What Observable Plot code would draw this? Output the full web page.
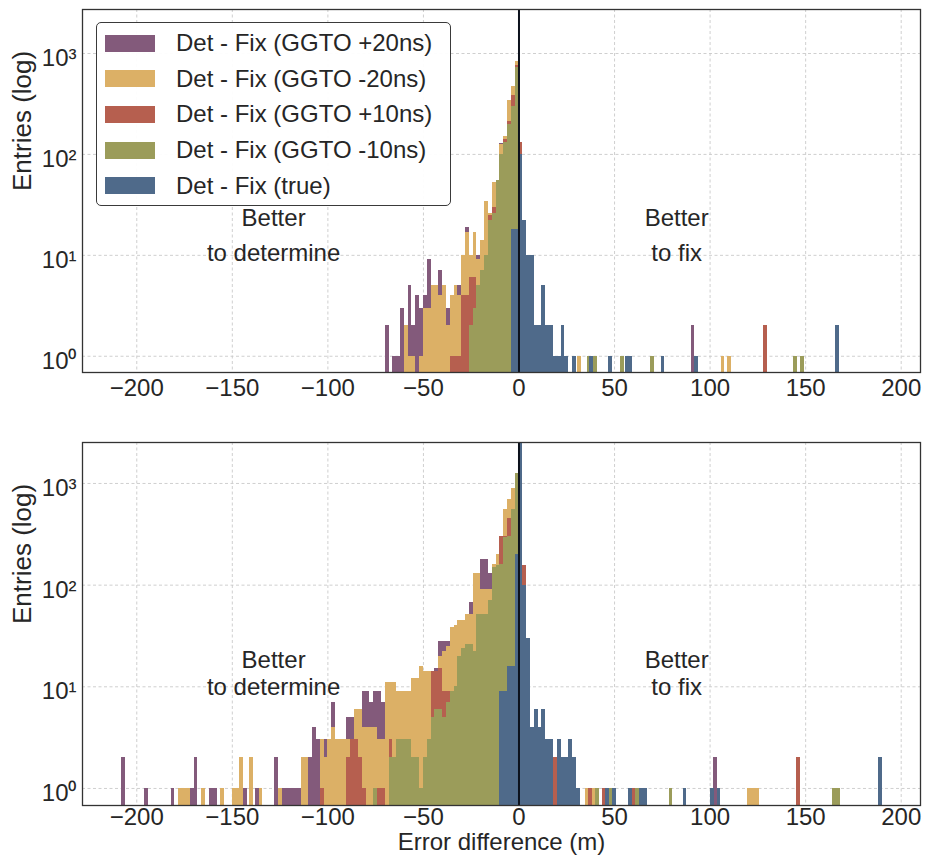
<!DOCTYPE html>
<html>
<head>
<meta charset="utf-8">
<script src="https://cdn.jsdelivr.net/npm/d3@7"></script>
<script src="https://cdn.jsdelivr.net/npm/@observablehq/plot@0.6"></script>
<style>
  body { margin: 0; background: #fff; }
  #wrap { position: relative; width: 933px; height: 856px; font-family: "Liberation Sans", Arial, sans-serif; color: #262626; }
  #wrap svg { display: block; }
  .legend { position: absolute; left: 96px; top: 22px; width: 355px; height: 184px; box-sizing: border-box;
            border: 1.3px solid #3a3a3a; border-radius: 5px; background: rgba(255,255,255,0.95); }
  .item { position: absolute; left: 0; height: 24px; display: flex; align-items: center; font-size: 24px; white-space: nowrap; }
  .sw { width: 50px; height: 17px; margin-left: 8px; margin-right: 21px; }
</style>
</head>
<body>
<div id="wrap"></div>
<script>
// ---------------- data ----------------
const seriesNames = ["Det - Fix (GGTO +20ns)", "Det - Fix (GGTO -20ns)", "Det - Fix (GGTO +10ns)", "Det - Fix (GGTO -10ns)", "Det - Fix (true)"];
const xTicks = [-200, -150, -100, -50, 0, 50, 100, 150, 200];
const yTicks = [1, 10, 100, 1000];
const BIN = 2; // histogram bin width (m)

// top panel: [bin left edge, entries]
const topP20 = [[-70,2],[-66,1],[-64,1],[-62,3],[-60,1],[-58,5],[-56,2],[-54,4],[-52,3],[-50,4],[-48,9],[-46,3],[-44,4],[-42,7],[-40,3],[-38,3],[-36,3],[-34,4],[-32,5],[-30,4],[-28,19],[-26,10],[-24,8],[-22,10],[-20,8],[-18,34],[-16,20],[-14,40],[-12,45],[-10,128],[-8,100],[-6,250],[-4,380],[-2,700],[0,30],[90.1,2]];
const topM20 = [[-60,2],[-58,1],[-56,1],[-52,1],[-50,3],[-48,3],[-46,5],[-44,5],[-42,4],[-40,5],[-38,2],[-36,4],[-34,5],[-32,4],[-30,10],[-28,17],[-26,10],[-24,17],[-22,9],[-20,14],[-18,34],[-16,26],[-14,53],[-12,53],[-10,125],[-8,150],[-6,340],[-4,470],[-2,830],[30.8,1],[105.8,1],[109.3,1]];
const topP10 = [[-36,1],[-34,1],[-32,1],[-30,4],[-28,4],[-26,6],[-24,6],[-22,5],[-20,7],[-18,8],[-16,25],[-14,30],[-12,45],[-10,90],[-8,140],[-6,210],[-4,380],[-2,760],[0,130],[16,1],[38.3,1],[127.8,2]];
const topM10 = [[-26,2],[-24,3],[-22,5],[-20,7],[-18,10],[-16,22],[-14,26],[-12,55],[-10,100],[-8,130],[-6,200],[-4,300],[-2,730],[35.7,1],[39.2,1],[53,1],[68.9,1],[143.9,1],[147.4,1]];
const topTrue = [[-4,18],[-2,18],[0,100],[2,22],[4,10],[6,10],[8,2],[10,2],[12,5],[14,2],[16,2],[18,1],[20,1],[22,2],[24,1],[28,1],[37,1],[47,1],[55.8,1],[57.5,1],[74.4,1],[91.9,1],[165.7,2]];

// bottom panel: [bin left edge, entries]
const botP20 = [[-208,2],[-196,1],[-182,1],[-172,1],[-170,2],[-162,1],[-160,1],[-144,1],[-138,1],[-128,2],[-124,1],[-122,1],[-120,1],[-118,1],[-116,1],[-110,2],[-108,4],[-106,3],[-104,2],[-102,3],[-100,3],[-98,7],[-96,3],[-94,2],[-92,2],[-90,5],[-88,5],[-86,5],[-84,5],[-82,9],[-80,9],[-78,7],[-76,9],[-74,9],[-72,7],[-70,9],[-68,5],[-66,4],[-64,5],[-62,5],[-60,6],[-58,6],[-56,8],[-54,8],[-52,10],[-50,14],[-48,10],[-46,12],[-44,15],[-42,28],[-40,28],[-38,28],[-36,25],[-34,20],[-32,30],[-30,30],[-28,40],[-26,68],[-24,60],[-22,100],[-20,180],[-18,180],[-16,130],[-14,130],[-12,150],[-10,200],[-8,300],[-6,400],[-4,600],[-2,700],[102,2]];
const botM20 = [[-178,1],[-176,1],[-174,1],[-166,1],[-156,1],[-150,1],[-148,1],[-146,2],[-141,2],[-136,1],[-126,1],[-114,2],[-112,2],[-104,3],[-102,2],[-100,3],[-98,4],[-96,3],[-94,3],[-92,3],[-90,3],[-88,3],[-86,6],[-84,6],[-82,4],[-80,4],[-78,4],[-76,4],[-74,3],[-72,3],[-70,11],[-68,11],[-66,11],[-64,9],[-62,9],[-60,9],[-58,9],[-56,12],[-54,12],[-52,16],[-50,14],[-48,14],[-46,11],[-44,14],[-42,20],[-40,22],[-38,25],[-36,38],[-34,40],[-32,45],[-30,45],[-28,52],[-26,52],[-24,130],[-22,130],[-20,90],[-18,90],[-16,90],[-14,160],[-12,200],[-10,300],[-8,550],[-6,700],[-4,900],[-2,950],[34.8,1],[38.3,1],[119.8,1],[121.8,1],[123.6,1]];
const botP10 = [[-104,1],[-90,2],[-88,3],[-86,3],[-84,2],[-82,1],[-74,1],[-72,1],[-68,3],[-66,1],[-64,1],[-56,2],[-54,2],[-52,1],[-50,2],[-48,2],[-46,14],[-44,14],[-42,15],[-40,9],[-38,9],[-36,9],[-34,9],[-32,5],[-30,5],[-28,8],[-26,14],[-24,20],[-22,28],[-20,28],[-18,43],[-16,30],[-14,60],[-12,130],[-10,300],[-8,300],[-6,450],[-4,500],[-2,800],[2,156],[17.9,2],[36.6,1],[43.6,1],[59.3,1],[145.1,2]];
const botM10 = [[-76,1],[-68,2],[-66,2],[-64,3],[-62,3],[-60,3],[-58,3],[-56,2],[-54,2],[-52,1],[-50,2],[-48,3],[-46,5],[-44,6],[-42,6],[-40,5],[-38,7],[-36,9],[-34,10],[-32,20],[-30,24],[-28,26],[-26,26],[-24,22],[-22,52],[-20,52],[-18,52],[-16,70],[-14,150],[-12,155],[-10,160],[-8,296],[-6,300],[-4,550],[-2,1260],[40,1],[47.1,1],[61,1],[78.5,1],[163.9,1],[166.2,1]];
const botTrue = [[-10,9],[-8,9],[-6,16],[-4,16],[-2,200],[0,2600],[2,100],[4,30],[6,4],[8,6],[10,4],[12,6],[14,3],[16,3],[20,3],[22,2],[24,2],[26,3],[28,2],[30,1],[45.3,1],[48.8,1],[57.5,1],[63.3,1],[65.3,1],[85.9,1],[100.3,1],[103.7,1],[188,2]];

const annoTop = [{x:-128.4, y:23.3, t:"Better"}, {x:-128.4, y:10.4, t:"to determine"}, {x:82.5, y:23.3, t:"Better"}, {x:82.5, y:10.4, t:"to fix"}];
const annoBot = [{x:-128.4, y:18.1, t:"Better"}, {x:-128.4, y:9.8, t:"to determine"}, {x:82.5, y:18.1, t:"Better"}, {x:82.5, y:9.8, t:"to fix"}];

// ---------------- style ----------------
const colors = ["#835a7b", "#dcb066", "#b65f4f", "#9b9c5a", "#4f6a8a"];
const FONT = "'Liberation Sans', Arial, sans-serif";
const INK = "#262626";
const sup = ["\u2070", "\u00B9", "\u00B2", "\u00B3"];
const fmtX = d => d < 0 ? "\u2212" + Math.abs(d) : String(d);

function toRows(list) { return list.map(([x, c]) => ({x1: x, x2: x + BIN, count: c})); }

function panel({series, yDomain, height, marginTop, marginBottom, annos, xLabel, xPad}) {
  const marks = [
    Plot.gridX(xTicks, {stroke: "#c9c9c9", strokeOpacity: 1, strokeWidth: 0.9, strokeDasharray: "3,2.5"}),
    Plot.gridY(yTicks, {stroke: "#c9c9c9", strokeOpacity: 1, strokeWidth: 0.9, strokeDasharray: "3,2.5"}),
    ...series.map((list, i) => Plot.rect(toRows(list), {
      x1: "x1", x2: "x2", y1: () => 0.05, y2: "count", fill: colors[i], clip: true, shapeRendering: "crispEdges"
    })),
    Plot.ruleX([0], {stroke: "#0c111c", strokeWidth: 2}),
    Plot.text(annos, {x: "x", y: "y", text: "t", fontSize: 24, fill: INK}),
    Plot.axisX(xTicks, {tickSize: 0, tickPadding: xPad, fontSize: 24, tickFormat: fmtX, label: null, fill: INK}),
    Plot.axisY(yTicks, {tickSize: 0, tickPadding: 6, fontSize: 24, tickFormat: d => "10" + sup[Math.round(Math.log10(d))], label: null, dy: 5, fill: INK}),
    Plot.text(["Entries (log)"], {frameAnchor: "left", rotate: -90, dx: -60, fontSize: 26, fill: INK}),
    Plot.frame({stroke: "#333", strokeWidth: 1.3})
  ];
  if (xLabel) marks.push(Plot.text([xLabel], {frameAnchor: "bottom", dy: 37, lineAnchor: "middle", fontSize: 24, fill: INK}));
  return Plot.plot({
    width: 933, height, marginTop, marginBottom, marginLeft: 82, marginRight: 13,
    style: {fontFamily: FONT, fontSize: "24px", background: "white", overflow: "visible"},
    x: {domain: [-228.4, 210.1], label: null},
    y: {type: "log", domain: yDomain, label: null},
    marks
  });
}

const wrap = document.getElementById("wrap");
wrap.appendChild(panel({
  series: [topP20, topM20, topP10, topM10, topTrue],
  yDomain: [0.69, 2730], height: 410, marginTop: 9, marginBottom: 38, annos: annoTop, xPad: 6
}));
wrap.appendChild(panel({
  series: [botP20, botM20, botP10, botM10, botTrue],
  yDomain: [0.68, 2530], height: 446, marginTop: 32, marginBottom: 51, annos: annoBot,
  xLabel: "Error difference (m)", xPad: 2
}));

// legend
const leg = document.createElement("div");
leg.className = "legend";
seriesNames.forEach((name, i) => {
  const it = document.createElement("div");
  it.className = "item";
  it.style.top = (8 + i * 35.7) + "px";
  const sw = document.createElement("div");
  sw.className = "sw";
  sw.style.background = colors[i];
  const tx = document.createElement("span");
  tx.textContent = name;
  it.appendChild(sw); it.appendChild(tx);
  leg.appendChild(it);
});
wrap.appendChild(leg);
</script>
</body>
</html>
